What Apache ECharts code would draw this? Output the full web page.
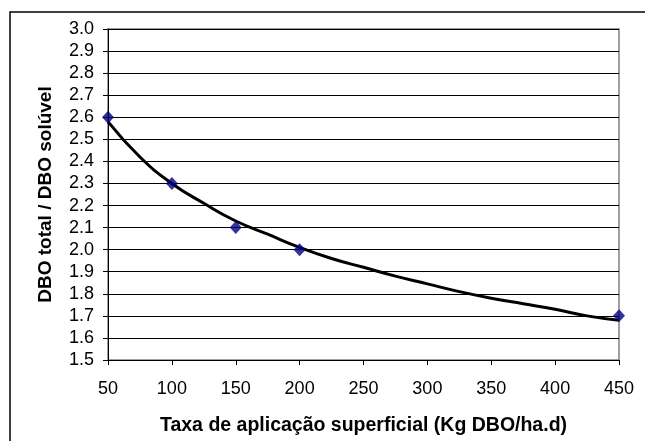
<!DOCTYPE html>
<html><head><meta charset="utf-8">
<script src="https://cdn.jsdelivr.net/npm/echarts@6/dist/echarts.min.js"></script>
<style>html,body{margin:0;padding:0;background:#fff}#c{width:645px;height:441px}</style>
</head><body><div id="c"></div>
<script>
// measured points
const taxa = [50, 100, 150, 200, 450];
const razao = [2.6, 2.3, 2.1, 2.0, 1.7];
// trend curve
const curveX = [50, 75, 100, 125, 150, 175, 200, 225, 250, 275, 300, 325, 350, 375, 400, 425, 450];
const curveY = [2.58, 2.42, 2.30, 2.21, 2.13, 2.07, 2.01, 1.96, 1.92, 1.88, 1.845, 1.81, 1.78, 1.755, 1.73, 1.70, 1.68];
const xTitle = 'Taxa de aplicação superficial (Kg DBO/ha.d)';
const yTitle = 'DBO total / DBO solúvel';

const chart = echarts.init(document.getElementById('c'));
const font = 'Liberation Sans, Arial, sans-serif';
chart.setOption({
  animation: false,
  backgroundColor: '#fff',
  graphic: [{type:'rect', shape:{x:10, y:12, width:700, height:500}, style:{fill:'none', stroke:'#000', lineWidth:1.5}, z:-1}],
  grid: {left:108, right:26, top:29, bottom:77, show:true, borderColor:'#808080', borderWidth:1.5},
  xAxis: {
    type:'value', min:50, max:450, interval:50,
    name: xTitle, nameLocation:'middle', nameGap:56,
    nameTextStyle:{fontFamily:font, fontWeight:'bold', fontSize:19.5, color:'#000'},
    axisLine:{show:true, lineStyle:{color:'#000', width:1}},
    axisTick:{show:true, length:5, lineStyle:{color:'#000'}},
    axisLabel:{fontFamily:font, fontSize:18, color:'#000', margin:20},
    splitLine:{show:false}
  },
  yAxis: {
    type:'value', min:1.5, max:3.0, interval:0.1,
    name: yTitle, nameLocation:'middle', nameGap:53,
    nameTextStyle:{fontFamily:font, fontWeight:'bold', fontSize:19, color:'#000'},
    axisLine:{show:true, lineStyle:{color:'#000', width:1}},
    axisTick:{show:true, length:5, lineStyle:{color:'#000'}},
    axisLabel:{fontFamily:font, fontSize:18, color:'#000', margin:14, formatter: v => v.toFixed(1)},
    splitLine:{show:true, lineStyle:{color:'#000', width:1}}
  },
  series: [
    {type:'line', data: curveX.map((x,i)=>[x, curveY[i]]), smooth:true, showSymbol:false,
     lineStyle:{color:'#000', width:3}, z:2},
    {type:'scatter', data: taxa.map((x,i)=>[x, razao[i]]), symbol:'diamond', symbolSize:[12,13],
     itemStyle:{color:'#000080'}, z:3}
  ]
});
</script></body></html>
